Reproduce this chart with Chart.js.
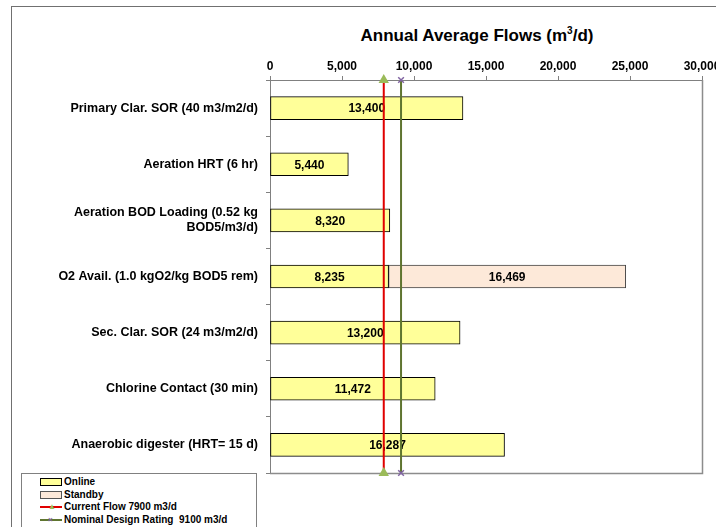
<!DOCTYPE html>
<html>
<head>
<meta charset="utf-8">
<script src="https://cdn.jsdelivr.net/npm/chart.js@4.4.1/dist/chart.umd.min.js"></script>
<style>
  body { margin: 0; background: #fff; font-family: "Liberation Sans", Arial, sans-serif; }
  .wrap { position: relative; width: 716px; height: 527px; overflow: hidden; }
  .frame { position: absolute; left: 11px; top: 6px; width: 800px; height: 600px; border-left: 1px solid #707070; border-top: 1px solid #707070; }
  .title { position: absolute; left: 261px; width: 432px; top: 25px; text-align: center; font-weight: bold; font-size: 17px; color: #000; }
  .title sup { font-size: 10px; }
  canvas { position: absolute; left: 0; top: 0; }
  .legend { position: absolute; left: 21px; top: 473px; width: 234px; height: 70px; border: 1px solid #808080; background: #fff; font-size: 10px; font-weight: bold; }
  .item { position: absolute; left: 18px; height: 12px; line-height: 12px; white-space: nowrap; }
  .sw { display: inline-block; width: 22px; height: 12px; vertical-align: top; position: relative; margin-right: 2px; }
  .box { position: absolute; left: 0; top: 2px; width: 20px; height: 6px; border: 1px solid #000; }
  .ln { position: absolute; left: 0; top: 5px; width: 22px; height: 2px; }
  .mk { position: absolute; left: 8px; top: 0px; font-size: 8px; line-height: 12px; }
</style>
</head>
<body>
<div class="wrap">
  <div class="frame"></div>
  <div class="title">Annual Average Flows (m<sup>3</sup>/d)</div>
  <canvas id="flowChart" width="740" height="527" style="width:740px;height:527px"></canvas>
  <div class="legend">
    <div class="item" style="top:2px"><span class="sw"><span class="box" style="background:#FFFF99"></span></span>Online</div>
    <div class="item" style="top:14.5px"><span class="sw"><span class="box" style="background:#FDE9D9;border-color:#555"></span></span>Standby</div>
    <div class="item" style="top:27px"><span class="sw"><span class="ln" style="background:#E00000"></span><span class="mk" style="color:#9BBB59">&#9650;</span></span>Current Flow 7900 m3/d</div>
    <div class="item" style="top:39.5px"><span class="sw"><span class="ln" style="background:#5F7530"></span><span class="mk" style="color:#8064A2">&#215;</span></span>Nominal Design Rating&nbsp; 9100 m3/d</div>
  </div>
</div>
<script>
const categories = [
  "Primary Clar. SOR (40 m3/m2/d)",
  "Aeration HRT (6 hr)",
  ["Aeration BOD Loading (0.52 kg", "BOD5/m3/d)"],
  "O2 Avail. (1.0 kgO2/kg BOD5 rem)",
  "Sec. Clar. SOR (24 m3/m2/d)",
  "Chlorine Contact (30 min)",
  "Anaerobic digester (HRT= 15 d)"
];
const online = [13400, 5440, 8320, 8235, 13200, 11472, 16287];
const standby = [null, null, null, 16469, null, null, null];
const currentFlow = 7900;
const designRating = 9100;
const xTicks = [0, 5000, 10000, 15000, 20000, 25000, 30000];

const FONT = "'Liberation Sans', Arial, sans-serif";

// value labels in the middle of each bar (drawn before the flow lines)
const barLabels = {
  id: "barLabels",
  afterDatasetDraw(chart, args) {
    if (args.index > 1) return;
    const ctx = chart.ctx;
    const ds = chart.data.datasets[args.index];
    ctx.save();
    ctx.font = "bold 12px " + FONT;
    ctx.fillStyle = "#000";
    ctx.textAlign = "center";
    ctx.textBaseline = "middle";
    args.meta.data.forEach((bar, i) => {
      const v = ds.data[i];
      if (v == null) return;
      const p = bar.getProps(["x", "y", "base"], true);
      ctx.fillText(v.toLocaleString("en-US"), (p.x + p.base) / 2, p.y + 1);
    });
    ctx.restore();
  }
};

// plot area frame (right and bottom sides)
const plotFrame = {
  id: "plotFrame",
  beforeDatasetsDraw(chart) {
    const a = chart.chartArea;
    const ctx = chart.ctx;
    ctx.save();
    ctx.strokeStyle = "#8c8c8c";
    ctx.lineWidth = 1.5;
    ctx.beginPath();
    ctx.moveTo(a.left, a.bottom + 0.5);
    ctx.lineTo(a.right + 0.5, a.bottom + 0.5);
    ctx.lineTo(a.right + 0.5, a.top);
    ctx.stroke();
    ctx.restore();
  }
};

new Chart("flowChart", {
  type: "bar",
  data: {
    labels: categories,
    datasets: [
      {
        label: "Online",
        data: online,
        stack: "flows",
        grouped: false,
        backgroundColor: "#FFFF99",
        borderColor: "#000",
        borderWidth: 1,
        borderSkipped: false,
        barThickness: 23,
        yAxisID: "y",
        order: 2
      },
      {
        label: "Standby",
        data: standby,
        stack: "flows",
        grouped: false,
        backgroundColor: "#FDE9D9",
        borderColor: "#444",
        borderWidth: 1,
        borderSkipped: false,
        barThickness: 23,
        yAxisID: "y",
        order: 2
      },
      {
        type: "line",
        label: "Current Flow 7900 m3/d",
        data: [{ x: currentFlow, y: 0 }, { x: currentFlow, y: 1 }],
        indexAxis: "y",
        yAxisID: "yl",
        stack: "cur",
        borderColor: "#E00000",
        borderWidth: 2,
        pointStyle: "triangle",
        pointRadius: 4,
        pointBackgroundColor: "#9BBB59",
        pointBorderColor: "#9BBB59",
        clip: false,
        order: 1
      },
      {
        type: "line",
        label: "Nominal Design Rating 9100 m3/d",
        data: [{ x: designRating, y: 0 }, { x: designRating, y: 1 }],
        indexAxis: "y",
        yAxisID: "yl",
        stack: "nom",
        borderColor: "#5F7530",
        borderWidth: 2,
        pointStyle: "crossRot",
        pointRadius: 4,
        pointBorderWidth: 1.5,
        pointBorderColor: "#8064A2",
        clip: false,
        order: 1
      }
    ]
  },
  options: {
    indexAxis: "y",
    responsive: false,
    animation: false,
    layout: { padding: { left: 20, right: 38, top: 56, bottom: 54 } },
    plugins: {
      legend: { display: false },
      title: { display: false },
      tooltip: { enabled: false }
    },
    scales: {
      x: {
        position: "top",
        stacked: true,
        min: 0,
        max: 30000,
        afterBuildTicks: (scale) => { scale.ticks = xTicks.map((v) => ({ value: v })); },
        afterFit: (scale) => { scale.height = 24; },
        border: { color: "#808080", width: 1 },
        grid: { drawOnChartArea: false, drawTicks: true, tickLength: 4, color: "#808080" },
        ticks: {
          color: "#000",
          padding: 2,
          maxRotation: 0,
          font: { family: FONT, size: 12, weight: "bold" },
          callback: (v) => v.toLocaleString("en-US")
        }
      },
      y: {
        stacked: true,
        afterFit: (scale) => { scale.width = 250; },
        border: { color: "#808080", width: 1 },
        grid: { drawOnChartArea: false, drawTicks: true, tickLength: 4, color: "#808080", offset: true },
        ticks: {
          color: "#000",
          padding: 8,
          font: { family: FONT, size: 12.5, weight: "bold" }
        }
      },
      yl: {
        type: "linear",
        display: false,
        offset: false,
        grace: 0,
        min: 0,
        max: 1,
        reverse: true
      }
    }
  },
  plugins: [plotFrame, barLabels]
});
</script>
</body>
</html>
